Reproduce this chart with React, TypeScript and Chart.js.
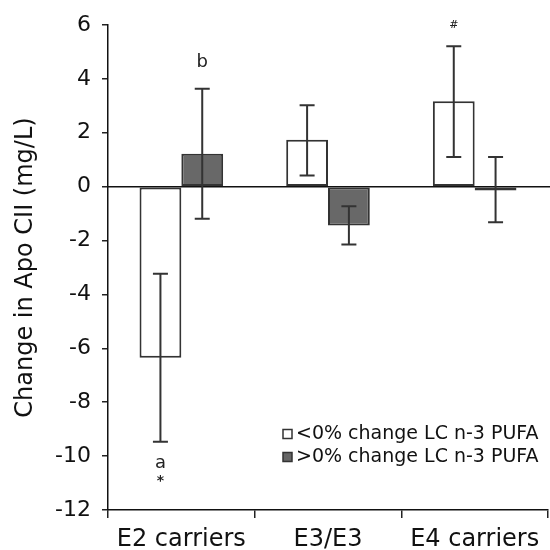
import React, { useEffect, useRef } from 'react';
import { Chart, registerables } from 'chart.js';

Chart.register(...registerables);

const categories = ['E2 carriers', 'E3/E3', 'E4 carriers'];
const seriesLabels = ['<0% change LC n-3 PUFA', '>0% change LC n-3 PUFA'];

const lowValues = [-6.35, 1.74, 3.17];
const lowErrLower = [-9.47, 0.41, 1.1];
const lowErrUpper = [-3.23, 3.02, 5.21];

const highValues = [1.22, -1.44, -0.14];
const highErrLower = [-1.19, -2.15, -1.32];
const highErrUpper = [3.63, -0.73, 1.1];

const yTicksMin = -12;
const yTicksMax = 6;
const yTickStep = 2;

// annotation marks: text, dataset index, category index, value
const annotationTexts = ['b', '#', 'a', '*'];
const annotationDatasets = [1, 0, 0, 0];
const annotationCategories = [0, 2, 0, 0];
const annotationValues = [4.6, 6.0, -10.25, -10.95];

const FONT = '"DejaVu Sans", "Liberation Sans", Arial, sans-serif';

export default function App() {
  const ref = useRef<HTMLCanvasElement | null>(null);

  useEffect(() => {
    document.body.style.margin = '0';
    const canvas = ref.current;
    if (!canvas) return;

    const errLower = [lowErrLower, highErrLower];
    const errUpper = [lowErrUpper, highErrUpper];

    const errorBarPlugin = {
      id: 'errorBars',
      afterDatasetsDraw(chart: any) {
        const ctx = chart.ctx;
        const y = chart.scales.y;
        const area = chart.chartArea;
        ctx.save();
        // zero line on top of bars
        const y0 = y.getPixelForValue(0);
        ctx.strokeStyle = '#111';
        ctx.lineWidth = 1.5;
        ctx.beginPath();
        ctx.moveTo(area.left, y0);
        ctx.lineTo(area.right + 2, y0);
        ctx.stroke();

        ctx.strokeStyle = '#333';
        ctx.lineWidth = 2;
        for (let d = 0; d < 2; d++) {
          const meta = chart.getDatasetMeta(d);
          meta.data.forEach((bar: any, i: number) => {
            const x = bar.x;
            const yl = y.getPixelForValue(errLower[d][i]);
            const yu = y.getPixelForValue(errUpper[d][i]);
            const cap = 7.5;
            ctx.beginPath();
            ctx.moveTo(x, yl);
            ctx.lineTo(x, yu);
            ctx.moveTo(x - cap, yl);
            ctx.lineTo(x + cap, yl);
            ctx.moveTo(x - cap, yu);
            ctx.lineTo(x + cap, yu);
            ctx.stroke();
          });
        }
        ctx.restore();
      },
    };

    const annotationPlugin = {
      id: 'marks',
      afterDraw(chart: any) {
        const ctx = chart.ctx;
        const y = chart.scales.y;
        ctx.save();
        ctx.fillStyle = '#222';
        ctx.textAlign = 'center';
        ctx.textBaseline = 'middle';
        annotationTexts.forEach((t, k) => {
          const bar = chart.getDatasetMeta(annotationDatasets[k]).data[annotationCategories[k]];
          const py = y.getPixelForValue(annotationValues[k]);
          if (t === '#') ctx.font = 'italic 11px "DejaVu Serif", serif';
          else if (t === '*') ctx.font = 'bold 14px ' + FONT;
          else ctx.font = '18px ' + FONT;
          ctx.fillText(t, bar.x, py);
        });
        ctx.restore();
      },
    };

    const legendPlugin = {
      id: 'customLegend',
      afterDraw(chart: any) {
        const ctx = chart.ctx;
        const area = chart.chartArea;
        const x0 = area.right - 265;
        const rows = [area.bottom - 76, area.bottom - 53];
        const fills = ['#ffffff', '#666666'];
        ctx.save();
        ctx.font = '19px ' + FONT;
        ctx.textBaseline = 'middle';
        ctx.textAlign = 'left';
        rows.forEach((ry, k) => {
          ctx.fillStyle = fills[k];
          ctx.fillRect(x0, ry - 4.5, 9, 9);
          ctx.strokeStyle = '#333';
          ctx.lineWidth = 1.5;
          ctx.strokeRect(x0, ry - 4.5, 9, 9);
          ctx.fillStyle = '#111';
          ctx.fillText(seriesLabels[k], x0 + 13, ry);
        });
        ctx.restore();
      },
    };

    const chart = new Chart(canvas, {
      type: 'bar',
      data: {
        labels: categories,
        datasets: [
          {
            label: seriesLabels[0],
            data: lowValues,
            backgroundColor: '#ffffff',
            borderColor: '#333333',
            borderWidth: 2,
            borderSkipped: false,
            categoryPercentage: 0.57,
            barPercentage: 1.0,
          },
          {
            label: seriesLabels[1],
            data: highValues,
            backgroundColor: '#686868',
            borderColor: '#333333',
            borderWidth: 2,
            borderSkipped: false,
            categoryPercentage: 0.57,
            barPercentage: 1.0,
          },
        ],
      },
      options: {
        responsive: false,
        animation: false,
        devicePixelRatio: 1,
        layout: { padding: { top: 25, right: 2, left: 0, bottom: 0 } },
        plugins: {
          legend: { display: false },
          tooltip: { enabled: false },
        },
        scales: {
          x: {
            grid: {
              offset: true,
              drawOnChartArea: false,
              tickLength: 8,
              tickColor: '#222',
              lineWidth: 1.5,
            },
            border: { color: '#111', width: 1.5 },
            ticks: {
              color: '#111',
              padding: 7,
              font: { family: FONT, size: 24 },
              maxRotation: 0,
            },
            afterFit(scale: any) {
              scale.height = 40;
            },
          },
          y: {
            min: yTicksMin,
            max: yTicksMax,
            ticks: {
              stepSize: yTickStep,
              color: '#111',
              padding: 11,
              font: { family: FONT, size: 22 },
            },
            grid: {
              drawOnChartArea: false,
              tickLength: 6,
              tickColor: '#222',
              lineWidth: 1.5,
            },
            border: { color: '#111', width: 1.5 },
            title: {
              display: true,
              text: 'Change in Apo CII (mg/L)',
              color: '#111',
              font: { family: FONT, size: 24 },
              padding: { top: 11, bottom: 0 },
            },
            afterFit(scale: any) {
              scale.width = 108;
            },
          },
        },
      },
      plugins: [errorBarPlugin, annotationPlugin, legendPlugin],
    });

    return () => chart.destroy();
  }, []);

  return (
    <div style={{ position: 'absolute', left: 0, top: 0, width: 550, height: 550 }}>
      <canvas ref={ref} width={550} height={550} />
    </div>
  );
}
